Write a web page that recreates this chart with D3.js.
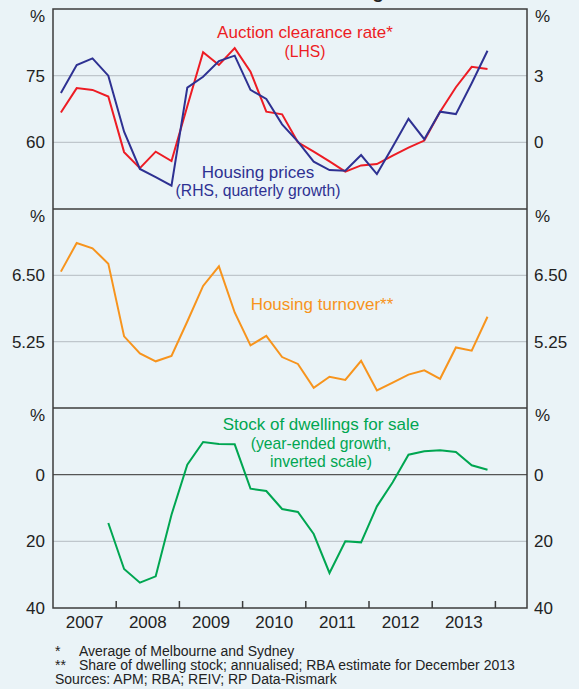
<!DOCTYPE html>
<html>
<head>
<meta charset="utf-8">
<script src="https://cdn.jsdelivr.net/npm/d3@7"></script>
<style>
  body { margin: 0; background: #eaf3f7; }
  svg { display: block; font-family: "Liberation Sans", Arial, sans-serif; }
</style>
</head>
<body>
<div id="chart"></div>
<script>
// quarterly data, 2007Q1 .. 2013Q4
const quarters = ["2007Q1","2007Q2","2007Q3","2007Q4","2008Q1","2008Q2","2008Q3","2008Q4",
  "2009Q1","2009Q2","2009Q3","2009Q4","2010Q1","2010Q2","2010Q3","2010Q4",
  "2011Q1","2011Q2","2011Q3","2011Q4","2012Q1","2012Q2","2012Q3","2012Q4",
  "2013Q1","2013Q2","2013Q3","2013Q4"];

const auctionRate = [66.7,72.2,71.8,70.3,57.8,54.2,57.9,55.8,68.1,80.3,77.4,81.2,75.9,66.9,66.3,60.0,
  57.9,55.7,53.4,54.8,55.1,57.0,58.8,60.4,66.9,72.4,77.0,76.5];
const housingPrices = [2.22,3.48,3.78,3.0,0.48,-1.2,-1.57,-1.95,2.46,2.95,3.66,3.9,2.36,1.95,0.81,0.03,
  -0.87,-1.25,-1.28,-0.57,-1.43,-0.2,1.06,0.14,1.38,1.27,2.66,4.12];
const turnover = [6.57,7.11,7.01,6.72,5.35,5.03,4.88,4.98,5.63,6.30,6.67,5.80,5.18,5.36,4.96,4.83,
  4.38,4.59,4.53,4.89,4.33,4.48,4.63,4.71,4.55,5.14,5.08,5.72];
const stockForSale = [null,null,null,14.5,28.3,32.4,30.5,12.0,-3.0,-9.8,-9.2,-9.1,4.2,4.9,10.3,11.2,
  17.8,29.5,20.0,20.3,9.5,2.3,-6.0,-7.0,-7.3,-6.8,-2.8,-1.5];

const years = [2007,2008,2009,2010,2011,2012,2013];
const ticks1L = [60,75], ticks1R = [0,3];
const ticks2 = [5.25,6.50];
const ticks3 = [0,20,40];

const W = 579, H = 689;
const left = 53, right = 527;
const panels = [{top: 9, bottom: 209}, {top: 209, bottom: 408}, {top: 408, bottom: 608}];

const fontMain = 17, fontSub = 15.7;
const cRed = "#ed1c24", cBlue = "#2e3192", cOrange = "#f7941d", cGreen = "#00a651";
const cAxis = "#3c3c3c", cGrid = "#bfc6cc";

function qTime(q) {
  return +q.slice(0,4) + (+q.slice(5) - 0.5) / 4;
}

const svg = d3.select("#chart").append("svg")
  .attr("width", W).attr("height", H);

svg.append("rect").attr("width", W).attr("height", H).attr("fill", "#eaf3f7");

// title, mostly cropped off above the picture
svg.append("text")
  .attr("x", 290).attr("y", -2)
  .attr("text-anchor", "middle")
  .attr("font-weight", "bold").attr("font-size", 19)
  .attr("fill", "#222")
  .text("Established Housing");

const x = d3.scaleLinear().domain([2007, 2014.5]).range([left, right]);

const y1L = d3.scaleLinear().domain([45, 90]).range([panels[0].bottom, panels[0].top]);
const y1R = d3.scaleLinear().domain([-3, 6]).range([panels[0].bottom, panels[0].top]);
const y2 = d3.scaleLinear().domain([4, 7.75]).range([panels[1].bottom, panels[1].top]);
const y3 = d3.scaleLinear().domain([-20, 40]).range([panels[2].top, panels[2].bottom]);

// gridlines
function grid(vals, scale, color) {
  svg.append("g").selectAll("line").data(vals).enter().append("line")
    .attr("x1", left).attr("x2", right)
    .attr("y1", d => scale(d)).attr("y2", d => scale(d))
    .attr("stroke", color).attr("stroke-width", 1.2);
}
grid(ticks1L, y1L, cGrid);
grid(ticks2, y2, cGrid);
grid([20], y3, cGrid);
grid([0], y3, "#555");

// axis labels, left and right
function tickLabels(vals, scale, side, fmt) {
  svg.append("g").selectAll("text").data(vals).enter().append("text")
    .attr("x", side === "left" ? left - 8 : right + 7)
    .attr("y", d => scale(d))
    .attr("dy", "0.36em")
    .attr("text-anchor", side === "left" ? "end" : "start")
    .attr("font-size", fontMain).attr("fill", "#222")
    .text(fmt);
}
tickLabels(ticks1L, y1L, "left", d => d);
tickLabels(ticks1R, y1R, "right", d => d);
tickLabels(ticks2, y2, "left", d3.format(".2f"));
tickLabels(ticks2, y2, "right", d3.format(".2f"));
tickLabels(ticks3, y3, "left", d => d);
tickLabels(ticks3, y3, "right", d => d);

// % units at the top of each panel
panels.forEach(p => {
  svg.append("text").attr("x", left - 8).attr("y", p.top + 13)
    .attr("text-anchor", "end").attr("font-size", fontMain).attr("fill", "#222").text("%");
  svg.append("text").attr("x", right + 8).attr("y", p.top + 13)
    .attr("text-anchor", "start").attr("font-size", fontMain).attr("fill", "#222").text("%");
});

// x axis ticks (inside, bottom only) and year labels
svg.append("g").selectAll("line").data(years.slice(1).concat([2014])).enter().append("line")
  .attr("x1", d => x(d)).attr("x2", d => x(d))
  .attr("y1", panels[2].bottom).attr("y2", panels[2].bottom - 7)
  .attr("stroke", cAxis).attr("stroke-width", 1.5);

svg.append("g").selectAll("text").data(years).enter().append("text")
  .attr("x", d => x(d + 0.5)).attr("y", 628)
  .attr("text-anchor", "middle").attr("font-size", fontMain).attr("fill", "#222")
  .text(d => d);

// lines
function drawLine(values, yScale, color) {
  const line = d3.line()
    .defined(d => d.v !== null)
    .x(d => x(qTime(d.q)))
    .y(d => yScale(d.v));
  svg.append("path")
    .datum(quarters.map((q, i) => ({q: q, v: values[i]})))
    .attr("d", line)
    .attr("fill", "none").attr("stroke", color).attr("stroke-width", 2)
    .attr("stroke-linejoin", "miter");
}
drawLine(auctionRate, y1L, cRed);
drawLine(housingPrices, y1R, cBlue);
drawLine(turnover, y2, cOrange);
drawLine(stockForSale, y3, cGreen);

// frame and panel separators
svg.append("rect")
  .attr("x", left).attr("y", panels[0].top)
  .attr("width", right - left).attr("height", panels[2].bottom - panels[0].top)
  .attr("fill", "none").attr("stroke", cAxis).attr("stroke-width", 1.5);
[panels[1].top, panels[2].top].forEach(yy => {
  svg.append("line").attr("x1", left).attr("x2", right).attr("y1", yy).attr("y2", yy)
    .attr("stroke", cAxis).attr("stroke-width", 1.5);
});

// series labels
function label(lines, cx, color) {
  lines.forEach(l => {
    svg.append("text").attr("x", cx).attr("y", l.y)
      .attr("text-anchor", "middle").attr("font-size", l.size).attr("fill", color)
      .text(l.t);
  });
}
label([{t: "Auction clearance rate*", y: 38, size: fontMain},
       {t: "(LHS)", y: 57, size: fontSub}], 305, cRed);
label([{t: "Housing prices", y: 178, size: fontMain},
       {t: "(RHS, quarterly growth)", y: 196, size: fontSub}], 258, cBlue);
label([{t: "Housing turnover**", y: 310, size: fontMain}], 322, cOrange);
label([{t: "Stock of dwellings for sale", y: 430, size: fontMain},
       {t: "(year-ended growth,", y: 449, size: fontSub},
       {t: "inverted scale)", y: 467, size: fontSub}], 321, cGreen);

// footnotes
const notes = svg.append("g").attr("font-size", 14).attr("fill", "#222");
notes.append("text").attr("x", 55).attr("y", 656).text("*");
notes.append("text").attr("x", 79).attr("y", 656).text("Average of Melbourne and Sydney");
notes.append("text").attr("x", 55).attr("y", 670).text("**");
notes.append("text").attr("x", 79).attr("y", 670).text("Share of dwelling stock; annualised; RBA estimate for December 2013");
notes.append("text").attr("x", 55).attr("y", 684).text("Sources: APM; RBA; REIV; RP Data-Rismark");
</script>
</body>
</html>
